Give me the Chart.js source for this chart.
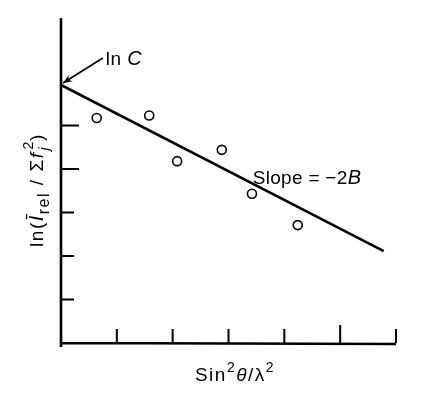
<!DOCTYPE html>
<html>
<head>
<meta charset="utf-8">
<script src="https://cdn.jsdelivr.net/npm/chart.js@4"></script>
<style>
html,body{margin:0;padding:0;background:#fff;}
canvas{display:block;}
</style>
</head>
<body>
<canvas id="c" width="423" height="393"></canvas>
<script>
// Data
const pointX = [0.64, 1.58, 2.08, 2.88, 3.42, 4.24];
const pointY = [5.17, 5.23, 4.18, 4.44, 3.43, 2.71];
const lineX = [0, 5.78];
const lineY = [5.93, 2.11];
const xTickValues = [1, 2, 3, 4, 5, 6];
const yTickValues = [1, 2, 3, 4, 5];
const xMax = 6;
const yMax = 7.47;

const FONT = '"Liberation Sans", "DejaVu Sans", sans-serif';

function drawRich(ctx, segs, cx, cy, rot, spacing) {
  ctx.save();
  ctx.translate(cx, cy);
  if (rot) ctx.rotate(rot);
  ctx.textBaseline = 'alphabetic';
  ctx.textAlign = 'left';
  if ('letterSpacing' in ctx) ctx.letterSpacing = (spacing || 0) + 'px';
  let total = 0;
  const widths = [];
  segs.forEach(s => {
    ctx.font = (s.italic ? 'italic ' : '') + s.size + 'px ' + FONT;
    const w = ctx.measureText(s.text).width;
    widths.push(w);
    if (!s.stack) total += w + (s.gap || 0);
  });
  let x = -total / 2;
  let prevX = x;
  segs.forEach((s, i) => {
    ctx.font = (s.italic ? 'italic ' : '') + s.size + 'px ' + FONT;
    ctx.fillStyle = '#000';
    const drawX = s.stack ? prevX : x;
    ctx.fillText(s.text, drawX + (s.gap || 0) + (s.dx || 0), s.dy || 0);
    if (!s.stack) { prevX = x; x += widths[i] + (s.gap || 0); }
  });
  ctx.restore();
}

const axesPlugin = {
  id: 'axesPlugin',
  afterDatasetsDraw(chart) {
    const ctx = chart.ctx;
    const xs = chart.scales.x, ys = chart.scales.y;
    const x0 = xs.getPixelForValue(0), y0 = ys.getPixelForValue(0);
    const xR = xs.getPixelForValue(xMax), yT = ys.getPixelForValue(yMax);
    ctx.save();
    ctx.strokeStyle = '#000';
    ctx.lineCap = 'butt';
    ctx.lineWidth = 2.6;
    ctx.beginPath();
    ctx.moveTo(x0, y0 + 4);
    ctx.lineTo(x0, yT);
    ctx.moveTo(x0 - 1, y0);
    ctx.lineTo(xR, y0 + 1);
    ctx.stroke();
    ctx.lineWidth = 2;
    ctx.beginPath();
    xTickValues.forEach((v) => {
      const px = xs.getPixelForValue(v);
      const len = v === 5 ? 18 : 14;
      ctx.moveTo(px, y0);
      ctx.lineTo(px, y0 - len);
    });
    yTickValues.forEach((v) => {
      const py = ys.getPixelForValue(v);
      const len = v >= 4 ? 18 : 13;
      ctx.moveTo(x0, py);
      ctx.lineTo(x0 + len, py);
    });
    ctx.stroke();

    const ax1 = xs.getPixelForValue(0.75), ay1 = ys.getPixelForValue(6.55);
    const ax2 = xs.getPixelForValue(lineX[0]) + 2, ay2 = ys.getPixelForValue(lineY[0]) - 2;
    ctx.lineWidth = 1.6;
    ctx.beginPath();
    ctx.moveTo(ax1, ay1);
    ctx.lineTo(ax2, ay2);
    ctx.stroke();
    const ang = Math.atan2(ay2 - ay1, ax2 - ax1);
    const hl = 10, hw = 0.38;
    ctx.beginPath();
    ctx.moveTo(ax2, ay2);
    ctx.lineTo(ax2 - hl * Math.cos(ang - hw), ay2 - hl * Math.sin(ang - hw));
    ctx.lineTo(ax2 - hl * 0.6 * Math.cos(ang), ay2 - hl * 0.6 * Math.sin(ang));
    ctx.lineTo(ax2 - hl * Math.cos(ang + hw), ay2 - hl * Math.sin(ang + hw));
    ctx.closePath();
    ctx.fillStyle = '#000';
    ctx.fill();
    ctx.restore();

    drawRich(ctx, [
      {text: 'ln ', size: 19},
      {text: 'C', size: 20, italic: true}
    ], 124, 65, 0, 0.5);
    drawRich(ctx, [
      {text: 'Slope = \u22122', size: 19},
      {text: 'B', size: 20, italic: true}
    ], 307, 184, 0, 0.3);
    drawRich(ctx, [
      {text: 'Sin', size: 19},
      {text: '2', size: 14, dy: -9},
      {text: '\u03B8', size: 19, italic: true},
      {text: '/\u03BB', size: 19},
      {text: '2', size: 14, dy: -9}
    ], 235, 381, 0, 1.5);
    drawRich(ctx, [
      {text: 'ln(', size: 19},
      {text: '\u012A', size: 20, italic: true},
      {text: 'rel', size: 16, dy: 6},
      {text: ' / \u03A3', size: 19},
      {text: 'f', size: 19, italic: true},
      {text: 'j', size: 14, dy: 6, italic: true, dx: 1},
      {text: '2', size: 14, dy: -10, stack: true, dx: 2},
      {text: ')', size: 19, gap: 6}
    ], 43, 190, -Math.PI / 2, 1.5);
  }
};

new Chart(document.getElementById('c'), {
  type: 'scatter',
  data: {
    datasets: [
      {
        data: lineX.map((x, i) => ({x, y: lineY[i]})),
        showLine: true,
        borderColor: '#000',
        borderWidth: 2.6,
        pointRadius: 0,
        fill: false
      },
      {
        data: pointX.map((x, i) => ({x, y: pointY[i]})),
        pointStyle: 'circle',
        pointRadius: 4.5,
        borderWidth: 1.6,
        borderColor: '#000',
        backgroundColor: '#fff'
      }
    ]
  },
  options: {
    responsive: false,
    animation: false,
    layout: {padding: {left: 61, right: 27, top: 18, bottom: 50}},
    plugins: {legend: {display: false}, tooltip: {enabled: false}},
    scales: {
      x: {type: 'linear', min: 0, max: xMax, display: false},
      y: {type: 'linear', min: 0, max: yMax, display: false}
    }
  },
  plugins: [axesPlugin]
});
</script>
</body>
</html>
